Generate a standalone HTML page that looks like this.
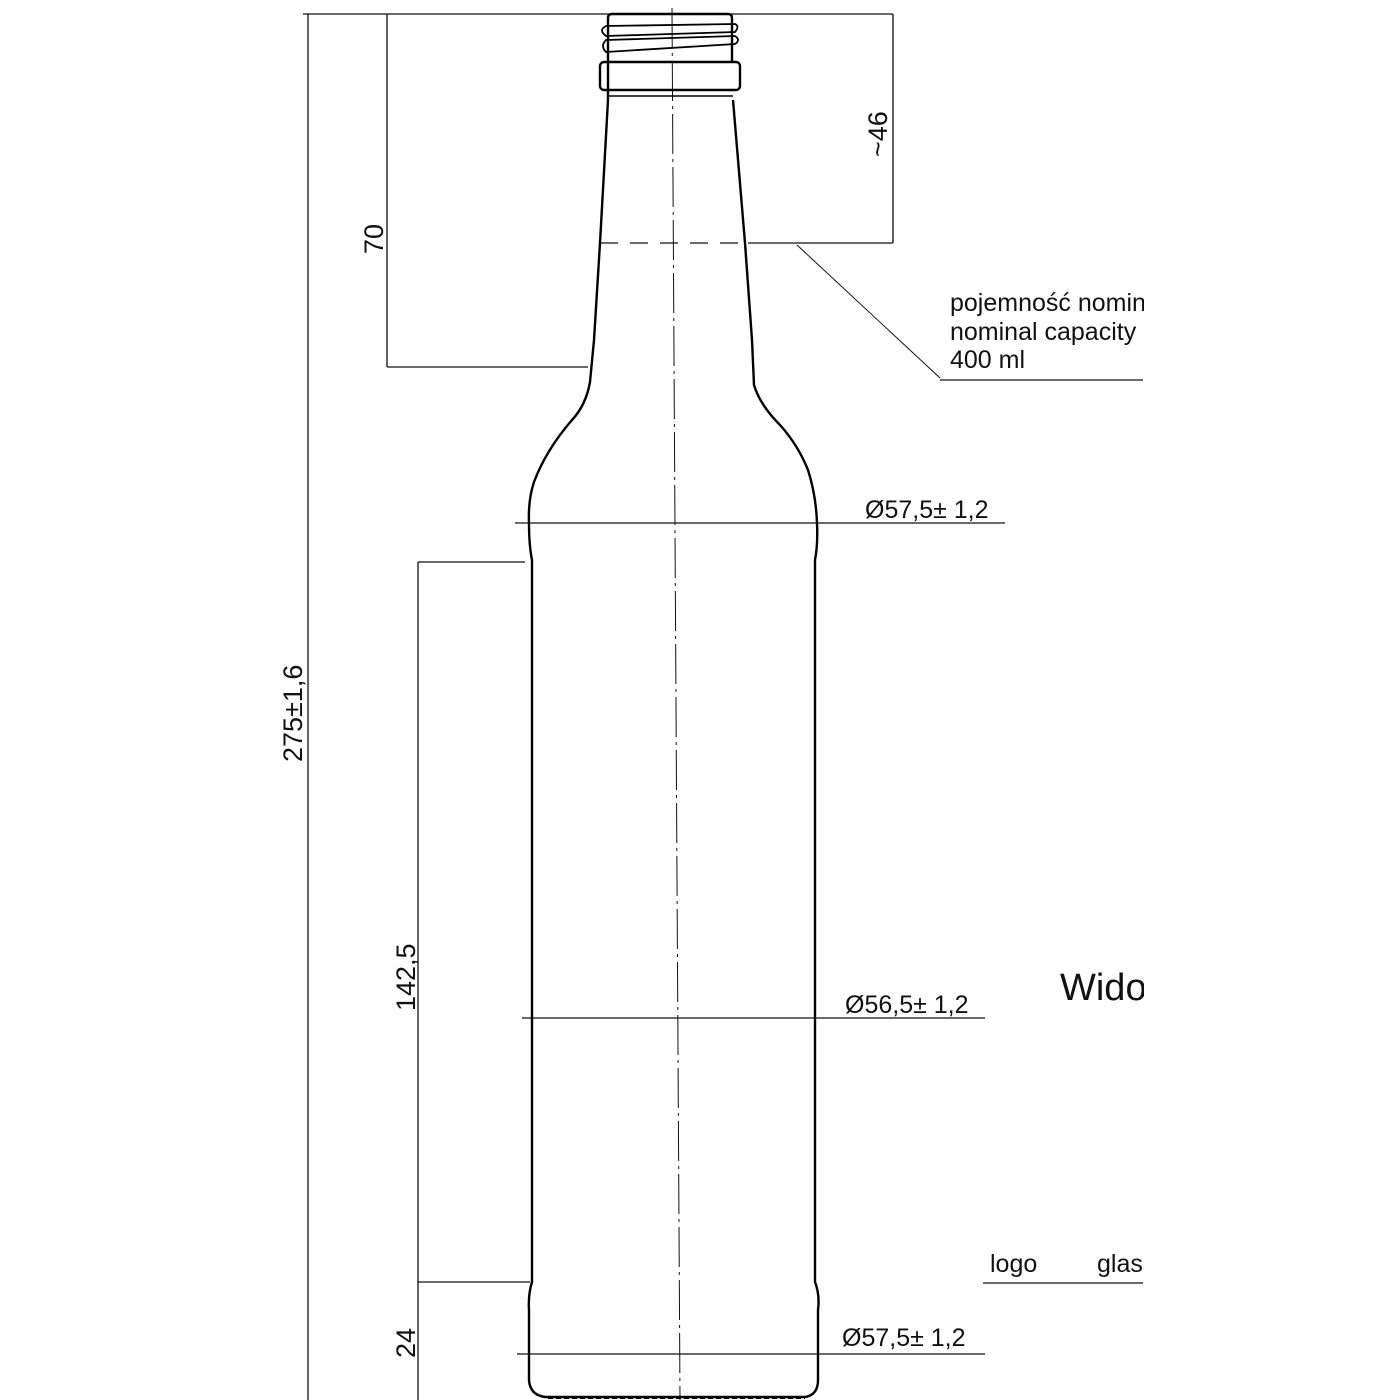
<!DOCTYPE html>
<html><head><meta charset="utf-8"><style>
html,body{margin:0;padding:0;background:#fff;}
svg{display:block}
text{font-family:"Liberation Sans",sans-serif;fill:#111}
</style></head><body>
<svg width="1400" height="1400" viewBox="0 0 1400 1400" xmlns="http://www.w3.org/2000/svg">
<g stroke="#111" fill="none" stroke-width="1.3">
<line x1="303" y1="14" x2="893" y2="14"/>
<line x1="308" y1="14" x2="308" y2="1400"/>
<line x1="387" y1="14" x2="387" y2="367"/>
<line x1="387" y1="367" x2="588" y2="367"/>
<line x1="893" y1="14" x2="893" y2="243"/>
<line x1="748" y1="243" x2="893" y2="243"/>
<line x1="600" y1="243" x2="745" y2="243" stroke-dasharray="18,12"/>
<line x1="797" y1="245" x2="940" y2="378" stroke-width="1"/>
<line x1="940" y1="380" x2="1143" y2="380"/>
<line x1="418" y1="562" x2="418" y2="1400"/>
<line x1="418" y1="562" x2="525" y2="562"/>
<line x1="418" y1="1282" x2="530" y2="1282"/>
<line x1="672" y1="8" x2="680" y2="1400" stroke-width="1" stroke-dasharray="40,5,3,5"/>
<line x1="515" y1="523" x2="1005" y2="523"/>
<line x1="522" y1="1018" x2="985" y2="1018"/>
<line x1="517" y1="1354" x2="985" y2="1354"/>
<line x1="983" y1="1283" x2="1143" y2="1283"/>
</g>
<g stroke="#000" fill="none" stroke-width="2.4">
<path d="M608,100 L608,18 Q608,14 612,14 L728,14 Q732,14 732,18 L732,62"/>
<path d="M606,26 Q598,30 606,36 L735,32 Q740,26 735,24 Z" stroke-width="1.8"/>
<path d="M606,40 Q600,46 606,52 L735,44 Q741,40 735,36 Z" stroke-width="1.8"/>
<rect x="600" y="62" width="140" height="28" rx="4"/>
<line x1="607" y1="96" x2="733" y2="96" stroke-width="1.5"/>
<path d="M608,100 L600,243 L594,340 L590,382 Q586,405 572,420 Q546,450 534,482 Q528,500 529,523 Q529,545 532,560 L532,1282 Q528,1295 529,1310 L529,1380 Q530,1395 545,1397 L805,1397 Q818,1395 818,1380 L818,1310 Q820,1295 815,1282 L815,560 Q818,545 817,523 Q816,495 808,470 Q798,445 780,425 Q760,405 754,385 L752,340 L745,243 L733,100"/>
<line x1="548" y1="1398" x2="805" y2="1398" stroke-width="2" stroke-dasharray="5,3"/>
</g>
<g font-size="25">
<text x="950" y="311">pojemność nominalna</text>
<text x="950" y="340">nominal capacity</text>
<text x="950" y="368">400 ml</text>
<text x="865" y="518">Ø57,5± 1,2</text>
<text x="845" y="1013">Ø56,5± 1,2</text>
<text x="842" y="1346">Ø57,5± 1,2</text>
<text x="990" y="1272">logo</text>
<text x="1097" y="1272">glass</text>
<text transform="translate(302,762) rotate(-90)" font-size="27">275±1,6</text>
<text transform="translate(383,254) rotate(-90)" font-size="27">70</text>
<text transform="translate(887,157) rotate(-90)" font-size="27">~46</text>
<text transform="translate(415,1011) rotate(-90)" font-size="27">142,5</text>
<text transform="translate(415,1358) rotate(-90)" font-size="27">24</text>
<text x="1060" y="1000" font-size="38">Widok</text>
</g>
<rect x="1144" y="0" width="256" height="1400" fill="#fff"/>
</svg>
</body></html>
